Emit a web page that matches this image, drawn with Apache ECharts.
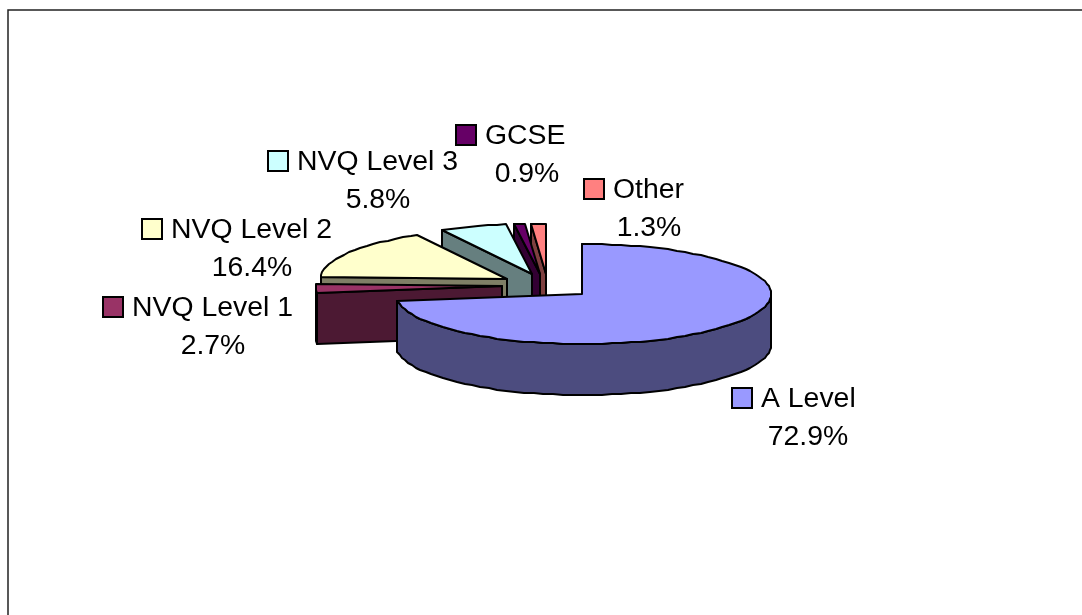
<!DOCTYPE html>
<html>
<head>
<meta charset="utf-8">
<style>
  html, body { margin: 0; padding: 0; background: #fff; }
  #chart { width: 1082px; height: 615px; }
</style>
<script src="https://cdn.jsdelivr.net/npm/echarts@6/dist/echarts.min.js"></script>
</head>
<body>
<div id="chart"></div>
<script>
// clockwise from 12 o'clock, same order as the workbook
const categories = ["A Level", "NVQ Level 1", "NVQ Level 2", "NVQ Level 3", "GCSE", "Other"];
const shares = [72.9, 2.7, 16.4, 5.8, 0.9, 1.3];

const topColors = ["#9999ff", "#993366", "#ffffcc", "#ccffff", "#660066", "#ff8080"];
const sideColors = ["#4c4c7f", "#4c1933", "#7f7f66", "#667f7f", "#330033", "#7f4040"];

// pie geometry, tilted ellipse + wall height (left half a touch narrower, as in the original)
const cx = 582, cy = 294, rxRight = 189, rxLeft = 186.5, ry = 50, depth = 51;
const explode = [[0, 0], [-80, -8], [-75, -15], [-50, -20], [-42, -20], [-36, -20]];

// legend key left/top, then centre x of the percent line
const labelPos = [
  { key: [732, 388], pct: 808 },
  { key: [103, 297], pct: 213 },
  { key: [142, 219], pct: 252 },
  { key: [268, 151], pct: 378 },
  { key: [456, 125], pct: 527 },
  { key: [584, 179], pct: 649 }
];
const labelFont = '28.4px "Liberation Sans", Arial, sans-serif';

const total = shares.reduce((a, b) => a + b, 0);
const startAngles = [];
shares.reduce((acc, v, i) => {
  startAngles[i] = acc;
  return acc + (v / total) * 360;
}, 0);

function pt(deg, off, dy) {
  const r = (deg * Math.PI) / 180;
  const sin = Math.sin(r);
  return [
    Math.round(cx + off[0] + (sin < 0 ? rxLeft : rxRight) * sin),
    Math.round(cy + off[1] - ry * Math.cos(r) + dy)
  ];
}

function arc(from, to, off, dy) {
  const pts = [];
  for (let a = from; a < to; a += 3) pts.push(pt(a, off, dy));
  pts.push(pt(to, off, dy));
  return pts;
}

const edge = { stroke: "#000", lineWidth: 2, lineJoin: "round" };

function renderSlice(params, api) {
  const i = api.value(0);
  const start = startAngles[i];
  const end = start + (api.value(1) / total) * 360;
  const off = explode[i];
  const apex = [cx + off[0], cy + off[1]];
  const children = [];

  // cut face on the start edge
  const s0 = pt(start, off, 0);
  const s1 = pt(start, off, depth);
  children.push({
    type: "polygon",
    shape: { points: [apex, s0, s1, [apex[0], apex[1] + depth]] },
    style: { fill: sideColors[i], ...edge }
  });

  // outer wall, only the part facing the viewer
  const a = Math.max(start, 90);
  const b = Math.min(end, 270);
  if (a < b) {
    children.push({
      type: "polygon",
      shape: { points: arc(a, b, off, 0).concat(arc(a, b, off, depth).reverse()) },
      style: { fill: sideColors[i], ...edge }
    });
  }

  children.push({
    type: "polygon",
    shape: { points: [apex].concat(arc(start, end, off, 0)) },
    style: { fill: topColors[i], ...edge }
  });

  // data label with legend key
  const pos = labelPos[i];
  children.push({
    type: "rect",
    shape: { x: pos.key[0], y: pos.key[1], width: 20, height: 20 },
    style: { fill: topColors[i], stroke: "#000", lineWidth: 2 }
  });
  children.push({
    type: "text",
    x: pos.key[0] + 29,
    y: pos.key[1] + 11,
    style: {
      text: categories[i],
      font: labelFont,
      fill: "#000",
      textAlign: "left",
      textVerticalAlign: "middle"
    }
  });
  children.push({
    type: "text",
    x: pos.pct,
    y: pos.key[1] + 49,
    style: {
      text: api.value(1).toFixed(1) + "%",
      font: labelFont,
      fill: "#000",
      textAlign: "center",
      textVerticalAlign: "middle"
    }
  });

  return { type: "group", children };
}

// back to front so nearer slices paint over the others
const drawOrder = [5, 4, 3, 2, 1, 0];

const chart = echarts.init(document.getElementById("chart"), null, { renderer: "canvas" });
chart.setOption({
  animation: false,
  backgroundColor: "#fff",
  graphic: [
    {
      type: "rect",
      silent: true,
      shape: { x: 8, y: 10, width: 1200, height: 800 },
      style: { fill: "none", stroke: "#222", lineWidth: 1.5 }
    }
  ],
  series: [
    {
      type: "custom",
      coordinateSystem: "none",
      silent: true,
      renderItem: renderSlice,
      data: drawOrder.map((i) => [i, shares[i]])
    }
  ]
});
</script>
</body>
</html>
